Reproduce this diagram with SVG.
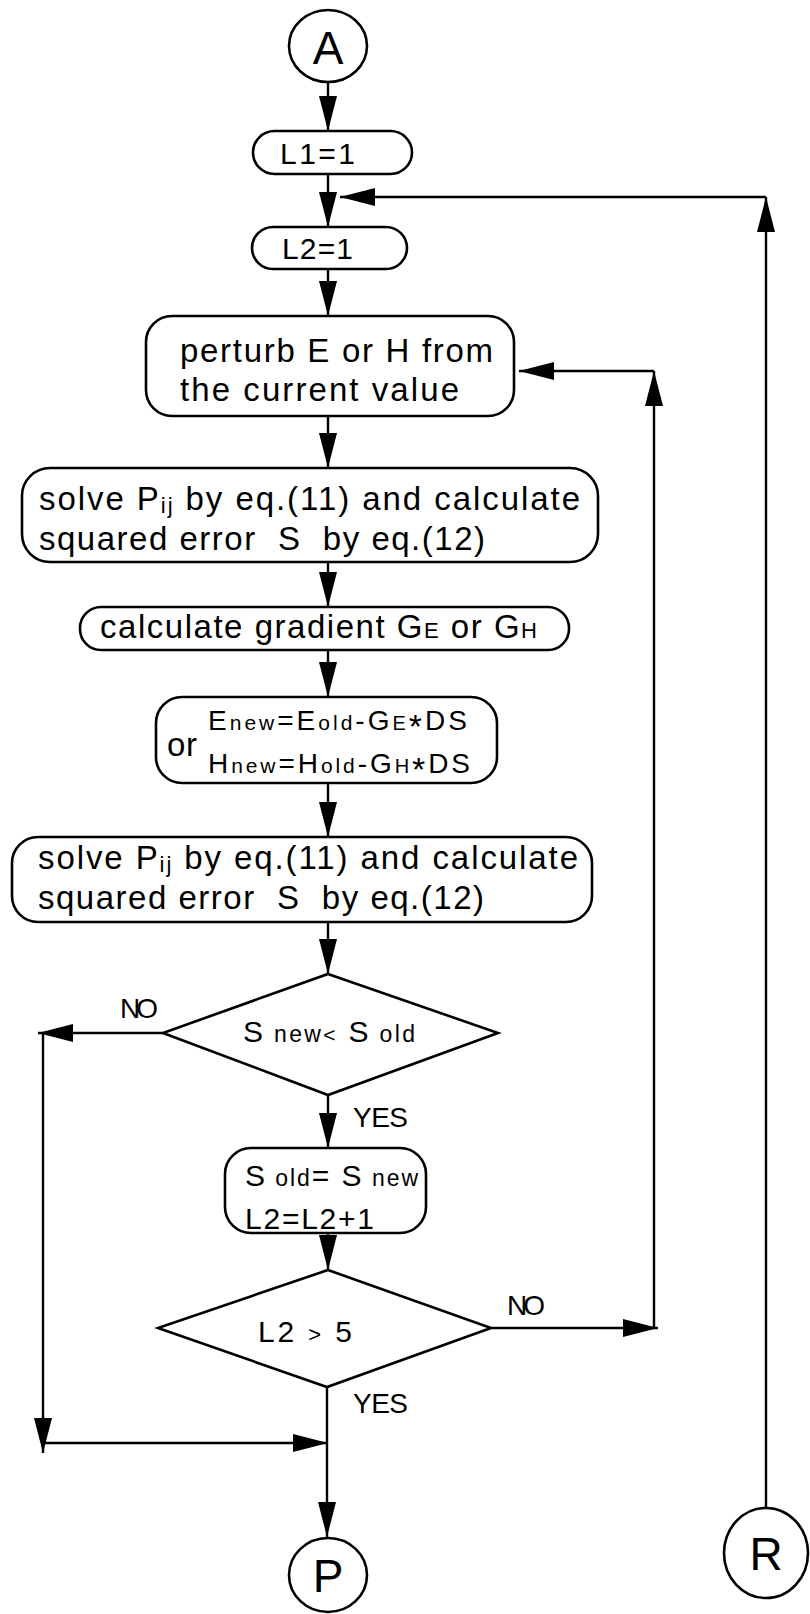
<svg xmlns="http://www.w3.org/2000/svg" width="810" height="1614" viewBox="0 0 810 1614">
<style>
.box{fill:none;stroke:#000;stroke-width:2.6}
.ln{fill:none;stroke:#000;stroke-width:2.4;marker-end:url(#ah)}
text{font-family:"Liberation Sans",Arial,sans-serif;fill:#000}
.t{font-size:33px}
.s{font-size:30px}
.m{font-size:28px}
.lb{font-size:28px}
.big{font-size:46px;text-anchor:middle}
</style>
<defs>
<marker id="ah" markerUnits="userSpaceOnUse" markerWidth="36" markerHeight="18" refX="35" refY="9" orient="auto" viewBox="0 0 36 18" overflow="visible">
<path d="M0,0 L35,9 L0,18 Z" fill="#000"/>
</marker>
</defs>
<rect width="810" height="1614" fill="#fff"/>

<g id="connectors">
<line class="ln" x1="328" y1="83" x2="328" y2="131"/>
<line class="ln" x1="328" y1="174" x2="328" y2="227"/>
<line class="ln" x1="328" y1="269" x2="328" y2="316"/>
<line class="ln" x1="328" y1="416" x2="328" y2="468"/>
<line class="ln" x1="328" y1="562" x2="328" y2="607"/>
<line class="ln" x1="328" y1="650" x2="328" y2="697"/>
<line class="ln" x1="328" y1="783" x2="328" y2="837"/>
<line class="ln" x1="328" y1="922" x2="328" y2="974"/>
<line class="ln" x1="328" y1="1095" x2="328" y2="1148"/>
<line class="ln" x1="328" y1="1233" x2="328" y2="1270"/>
<line class="ln" x1="327" y1="1387" x2="327" y2="1537"/>
<line class="ln" x1="163" y1="1033" x2="38" y2="1033"/>
<line class="ln" x1="43" y1="1033" x2="43" y2="1453"/>
<line class="ln" x1="43" y1="1443" x2="328" y2="1443"/>
<line class="ln" x1="491" y1="1328" x2="658" y2="1328"/>
<line class="ln" x1="654" y1="1328" x2="654" y2="371"/>
<line class="ln" x1="654" y1="371" x2="519" y2="371"/>
<line class="ln" x1="766" y1="1508" x2="766" y2="197"/>
<line class="ln" x1="766" y1="197" x2="340" y2="197"/>
</g>

<g id="nodeA">
<ellipse class="box" cx="328" cy="46" rx="39" ry="36"/>
<text class="big" x="328" y="64">A</text>
</g>

<g id="nodeL1">
<rect class="box" x="253" y="131" width="159" height="43" rx="21.5"/>
<text class="s" x="280" y="164" textLength="75" lengthAdjust="spacing">L1=1</text>
</g>

<g id="nodeL2">
<rect class="box" x="252" y="227" width="155" height="42" rx="21"/>
<text class="s" x="282" y="259" textLength="71" lengthAdjust="spacing">L2=1</text>
</g>

<g id="nodePerturb">
<rect class="box" x="146" y="316" width="368" height="100" rx="26"/>
<text class="t" x="180" y="362" textLength="313" lengthAdjust="spacing">perturb E or H from</text>
<text class="t" x="180" y="401" textLength="279" lengthAdjust="spacing">the current value</text>
</g>

<g id="nodeSolve1">
<rect class="box" x="22" y="468" width="576" height="94" rx="28"/>
<text class="t" x="39" y="510" textLength="541" lengthAdjust="spacing">solve P<tspan font-size="22" dy="3">ij</tspan><tspan dy="-3"> by eq.(11) and calculate</tspan></text>
<text class="t" x="39" y="550" textLength="446" lengthAdjust="spacing">squared error&#160; S&#160; by eq.(12)</text>
</g>

<g id="nodeGradient">
<rect class="box" x="80" y="607" width="489" height="43" rx="21"/>
<text class="t" x="100" y="638" textLength="437" lengthAdjust="spacing">calculate gradient G<tspan font-size="22">E</tspan> or G<tspan font-size="22">H</tspan></text>
</g>

<g id="nodeUpdate">
<rect class="box" x="156" y="697" width="341" height="86" rx="26"/>
<text class="t" x="167" y="756" textLength="30" lengthAdjust="spacing">or</text>
<text class="m" x="208" y="730" textLength="259" lengthAdjust="spacing">E<tspan font-size="21">new</tspan>=E<tspan font-size="21">old</tspan>-G<tspan font-size="20">E</tspan><tspan font-size="34" dy="8">*</tspan><tspan dy="-8">DS</tspan></text>
<text class="m" x="208" y="773" textLength="262" lengthAdjust="spacing">H<tspan font-size="21">new</tspan>=H<tspan font-size="21">old</tspan>-G<tspan font-size="20">H</tspan><tspan font-size="34" dy="8">*</tspan><tspan dy="-8">DS</tspan></text>
</g>

<g id="nodeSolve2">
<rect class="box" x="12" y="837" width="580" height="85" rx="26"/>
<text class="t" x="38" y="869" textLength="540" lengthAdjust="spacing">solve P<tspan font-size="22" dy="3">ij</tspan><tspan dy="-3"> by eq.(11) and calculate</tspan></text>
<text class="t" x="38" y="909" textLength="446" lengthAdjust="spacing">squared error&#160; S&#160; by eq.(12)</text>
</g>

<g id="nodeDecision1">
<polygon class="box" points="328,974 498,1033 328,1095 163,1033"/>
<text class="s" x="243" y="1042" textLength="172" lengthAdjust="spacing">S<tspan font-size="23"> new</tspan><tspan font-size="21">&lt;</tspan> S<tspan font-size="23"> old</tspan></text>
</g>

<g id="nodeUpdateS">
<rect class="box" x="225" y="1148" width="201" height="85" rx="26"/>
<text class="s" x="245" y="1186" textLength="173" lengthAdjust="spacing">S<tspan font-size="23"> old</tspan>= S<tspan font-size="23"> new</tspan></text>
<text class="s" x="245" y="1229" textLength="129" lengthAdjust="spacing">L2=L2+1</text>
</g>

<g id="nodeDecision2">
<polygon class="box" points="328,1270 491,1328 327,1387 158,1328"/>
<text class="s" x="258" y="1342" textLength="94" lengthAdjust="spacing">L2 <tspan font-size="22">&gt;</tspan> 5</text>
</g>

<g id="labels">
<text class="lb" x="120" y="1018" textLength="38" lengthAdjust="spacing">NO</text>
<text class="lb" x="353" y="1127" textLength="55" lengthAdjust="spacing">YES</text>
<text class="lb" x="507" y="1315" textLength="38" lengthAdjust="spacing">NO</text>
<text class="lb" x="353" y="1413" textLength="55" lengthAdjust="spacing">YES</text>
</g>

<g id="nodeP">
<ellipse class="box" cx="328" cy="1575" rx="39" ry="37"/>
<text class="big" x="328" y="1592">P</text>
</g>

<g id="nodeR">
<ellipse class="box" cx="766" cy="1553" rx="42" ry="45"/>
<text class="big" x="766" y="1570">R</text>
</g>
</svg>
